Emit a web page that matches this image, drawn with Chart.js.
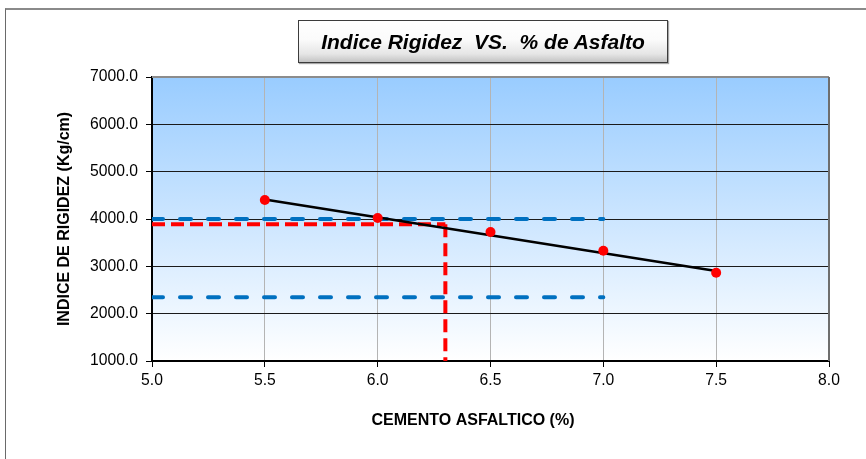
<!DOCTYPE html>
<html>
<head>
<meta charset="utf-8">
<script src="https://cdn.jsdelivr.net/npm/chart.js@4/dist/chart.umd.min.js"></script>
<style>
  html, body { margin: 0; padding: 0; background: #ffffff; }
  #wrap { position: relative; width: 866px; height: 459px; overflow: hidden; }
  #frame {
    position: absolute; left: 5px; top: 8px; width: 900px; height: 500px;
    border-top: 2px solid #8a8a8a; border-left: 1px solid #6a6a6a;
    box-sizing: border-box; pointer-events: none;
  }
  #titulo {
    position: absolute; left: 298px; top: 20px; width: 370px; height: 43px;
    box-sizing: border-box; border: 1.5px solid #3c3c3c;
    background: linear-gradient(to bottom, #ffffff 0%, #fbfbfb 45%, #e6e6e6 80%, #c4c4c4 100%);
    box-shadow: 1px 1px 1px rgba(0,0,0,0.35);
    font-family: "Liberation Sans", Arial, sans-serif; font-weight: bold; font-style: italic;
    font-size: 21px; color: #000; text-align: center; line-height: 41px; white-space: pre;
  }
  canvas { position: absolute; left: 0; top: 0; }
</style>
</head>
<body>
<div id="wrap">
  <canvas id="grafico" width="866" height="459"></canvas>
  <div id="frame"></div>
  <div id="titulo">Indice Rigidez  VS.  % de Asfalto</div>
</div>
<script>
// Ensayo Marshall: índice de rigidez frente al contenido de cemento asfáltico
const asfalto = [5.5, 6.0, 6.5, 7.0, 7.5];
const rigidez = [4400, 4020, 3725, 3330, 2865];

// Recta de tendencia (extremos)
const tendenciaX = [5.5, 7.5];
const tendenciaY = [4410, 2900];

// Límites de rigidez (líneas azules) entre 5.0 y 7.0 %
const limitesX = [5.0, 7.0];
const limiteSuperior = 4000;
const limiteInferior = 2345;

// Contenido óptimo y rigidez correspondiente (líneas rojas)
const optimoAsfalto = 6.3;
const optimoRigidez = 3890;

// Ejes
const ejeX = { min: 5.0, max: 8.0, paso: 0.5 };
const ejeY = { min: 1000, max: 7000, paso: 1000 };
const tituloX = 'CEMENTO ASFALTICO (%)';
const tituloY = 'INDICE DE RIGIDEZ (Kg/cm)';

const FUENTE = '"Liberation Sans", Arial, sans-serif';

const pares = (xs, ys) => xs.map((x, i) => ({ x: x, y: ys[i] }));

const fondoPlugin = {
  id: 'fondo',
  beforeDraw(chart) {
    const { ctx, chartArea: a } = chart;
    const g = ctx.createLinearGradient(0, a.top, 0, a.bottom);
    g.addColorStop(0, '#99ccff');
    g.addColorStop(1, '#ffffff');
    ctx.save();
    ctx.fillStyle = g;
    ctx.fillRect(a.left, a.top, a.right - a.left, a.bottom - a.top);
    ctx.restore();
  },
  afterDraw(chart) {
    const { ctx, chartArea: a } = chart;
    ctx.save();
    // borde superior y derecho del área de trazado
    ctx.strokeStyle = '#8c8c8c';
    ctx.lineWidth = 2;
    ctx.beginPath();
    ctx.moveTo(a.left, a.top);
    ctx.lineTo(a.right, a.top);
    ctx.stroke();
    ctx.strokeStyle = '#6e6e6e';
    ctx.beginPath();
    ctx.moveTo(a.right, a.top);
    ctx.lineTo(a.right, a.bottom);
    ctx.stroke();
    // títulos de los ejes
    ctx.fillStyle = '#000';
    ctx.font = 'bold 16px ' + FUENTE;
    ctx.textAlign = 'center';
    ctx.textBaseline = 'middle';
    ctx.fillText(tituloX, 473, 421);
    ctx.translate(65, (a.top + a.bottom) / 2);
    ctx.rotate(-Math.PI / 2);
    ctx.fillText(tituloY, 0, 0);
    ctx.restore();
  }
};

new Chart(document.getElementById('grafico'), {
  type: 'scatter',
  data: {
    datasets: [
      {
        label: 'Ensayos',
        data: pares(asfalto, rigidez),
        showLine: false,
        pointRadius: 5,
        pointHoverRadius: 5,
        pointBackgroundColor: '#ff0000',
        pointBorderColor: '#ff0000',
        pointBorderWidth: 0
      },
      {
        label: 'Tendencia',
        data: pares(tendenciaX, tendenciaY),
        showLine: true,
        borderColor: '#000000',
        borderWidth: 2.5,
        pointRadius: 0
      },
      {
        label: 'Optimo horizontal',
        data: pares([ejeX.min, optimoAsfalto], [optimoRigidez, optimoRigidez]),
        showLine: true,
        borderColor: '#ff0000',
        borderWidth: 4,
        borderDash: [13, 6],
        pointRadius: 0
      },
      {
        label: 'Optimo vertical',
        data: pares([optimoAsfalto, optimoAsfalto], [optimoRigidez, ejeY.min]),
        showLine: true,
        borderColor: '#ff0000',
        borderWidth: 4,
        borderDash: [13, 6],
        pointRadius: 0
      },
      {
        label: 'Limite superior',
        data: pares(limitesX, [limiteSuperior, limiteSuperior]),
        showLine: true,
        borderColor: '#0070c0',
        borderWidth: 4,
        borderCapStyle: 'round',
        borderDash: [11, 17],
        pointRadius: 0
      },
      {
        label: 'Limite inferior',
        data: pares(limitesX, [limiteInferior, limiteInferior]),
        showLine: true,
        borderColor: '#0070c0',
        borderWidth: 4,
        borderCapStyle: 'round',
        borderDash: [11, 17],
        pointRadius: 0
      }
    ]
  },
  options: {
    responsive: false,
    animation: false,
    events: [],
    layout: { padding: { left: 0, top: 77, right: 37, bottom: 0 } },
    plugins: {
      legend: { display: false },
      title: { display: false },
      tooltip: { enabled: false }
    },
    scales: {
      x: {
        type: 'linear',
        min: ejeX.min,
        max: ejeX.max,
        afterFit(scale) { scale.height = 98; },
        border: { display: true, color: '#000', width: 2 },
        grid: {
          color: '#b4b4b4',
          lineWidth: 1,
          tickLength: 6,
          tickColor: '#000',
          tickWidth: 1
        },
        ticks: {
          stepSize: ejeX.paso,
          padding: 4,
          color: '#000',
          font: { family: FUENTE, size: 15.7 },
          maxRotation: 0,
          callback: v => Number(v).toFixed(1)
        }
      },
      y: {
        type: 'linear',
        min: ejeY.min,
        max: ejeY.max,
        afterFit(scale) { scale.width = 152; },
        border: { display: true, color: '#000', width: 2 },
        grid: {
          color: '#1a1a1a',
          lineWidth: 1,
          tickLength: 6,
          tickColor: '#000',
          tickWidth: 1
        },
        ticks: {
          stepSize: ejeY.paso,
          padding: 8,
          color: '#000',
          font: { family: FUENTE, size: 15.7 },
          callback: v => Number(v).toFixed(1)
        }
      }
    }
  },
  plugins: [fondoPlugin]
});
</script>
</body>
</html>
